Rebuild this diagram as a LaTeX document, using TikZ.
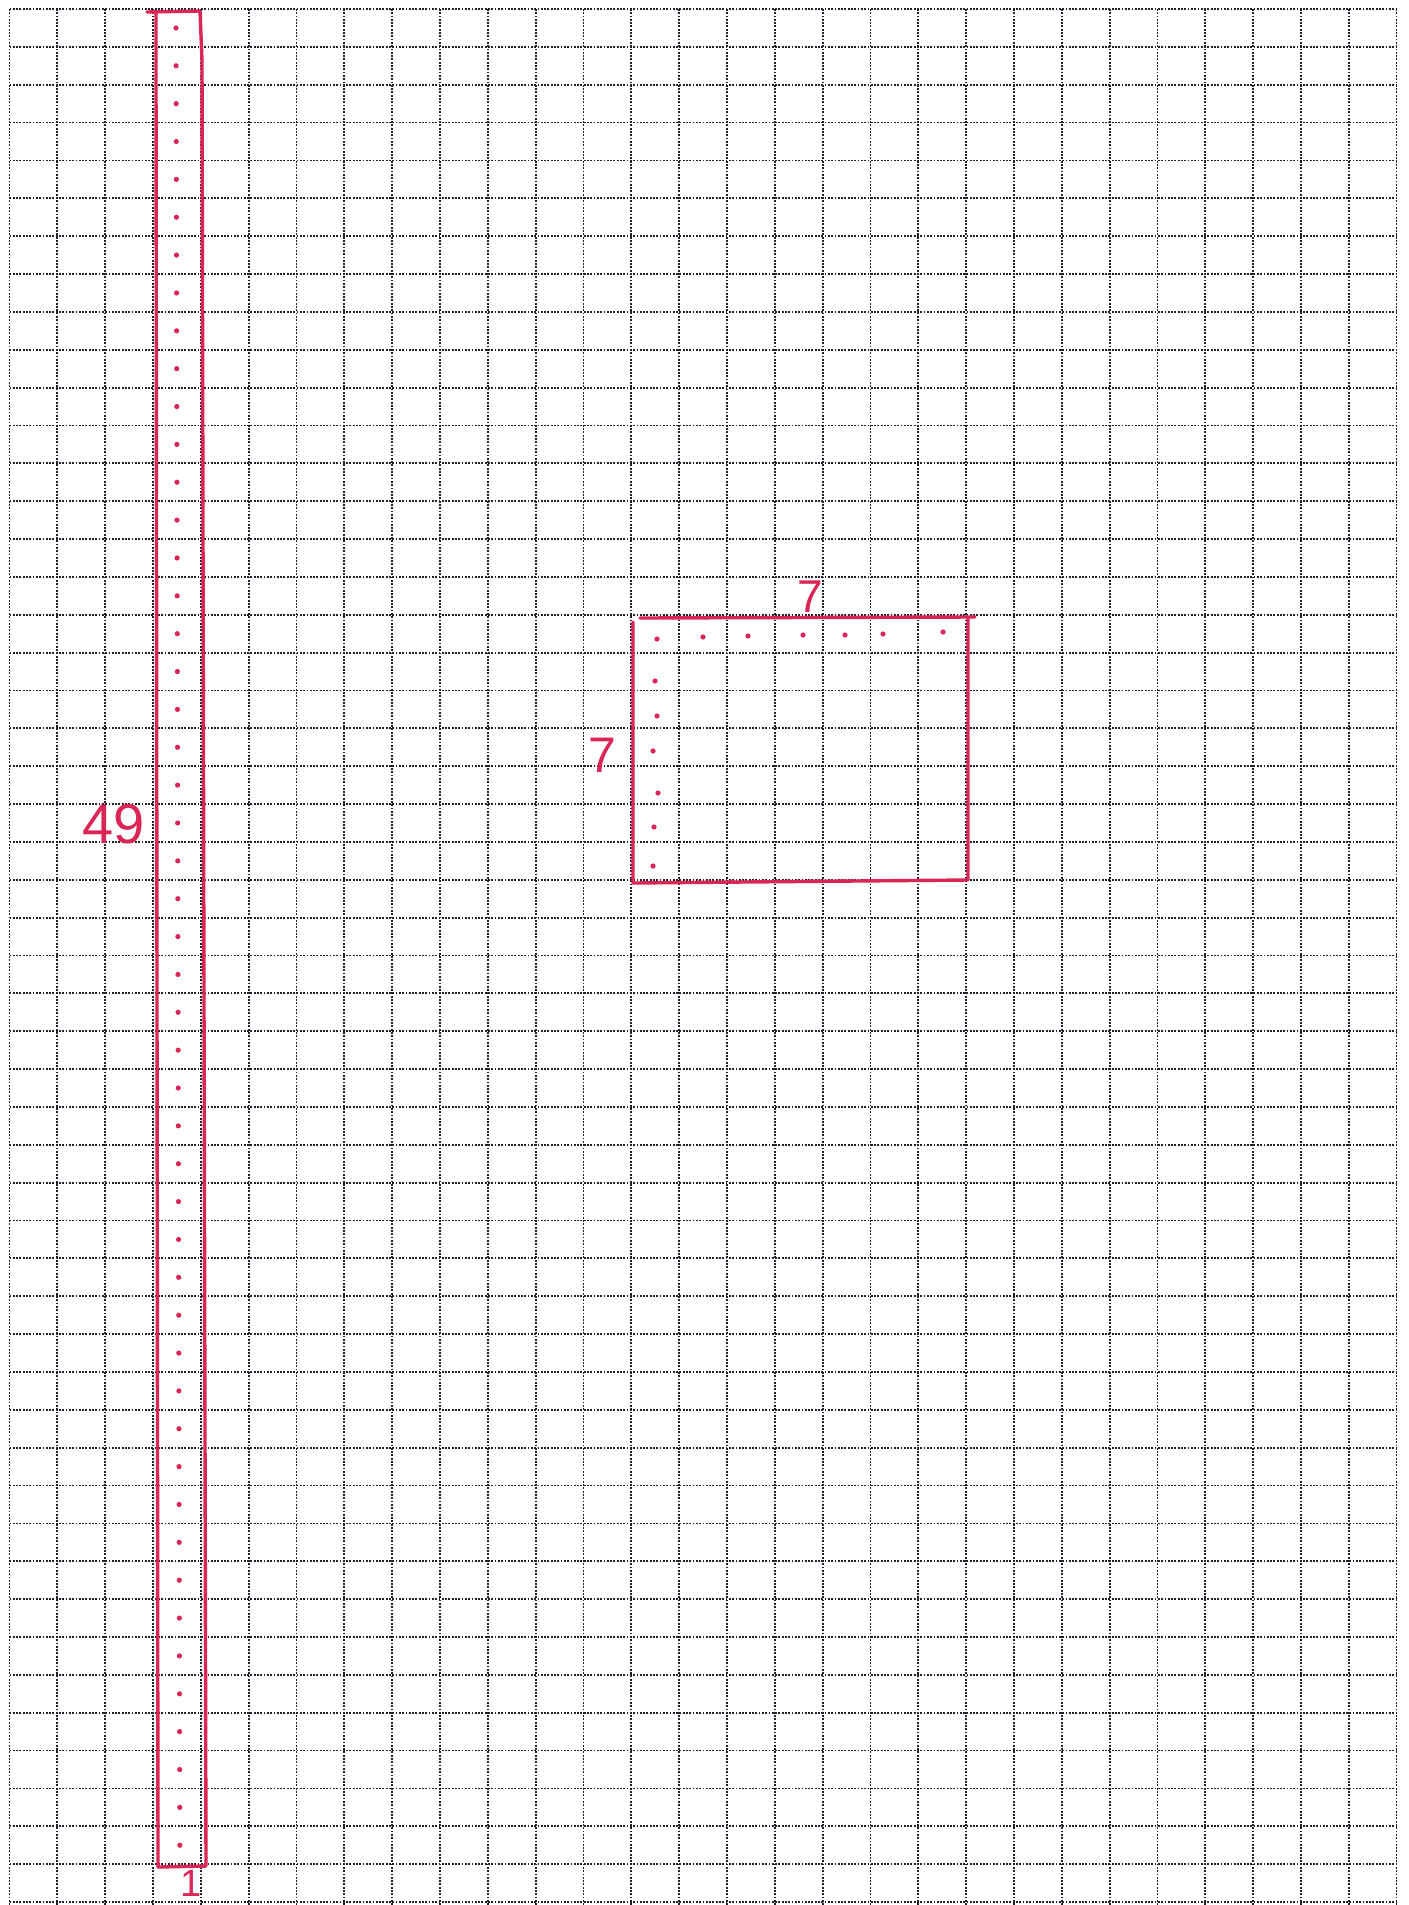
\documentclass[tikz,border=0pt]{standalone}
\usepackage{fontspec}
\setmainfont{Liberation Sans}
\definecolor{pen}{RGB}{218,38,84}
\definecolor{gridink}{RGB}{30,34,42}
\begin{document}
\begin{tikzpicture}[x=1pt,y=-1pt,
  gridline/.style={gridink,line width=1.8pt,dash pattern=on 1.8pt off 1.5pt},
  penline/.style={pen,line width=3.4pt,line cap=round,line join=round},
  pendot/.style={fill=pen,draw=none},
  penlabel/.style={pen,inner sep=0pt,font=\fontsize{#1}{#1}\selectfont}]
\useasboundingbox (0,0) rectangle (1408,1905);
\fill[white] (0,0) rectangle (1408,1905);
% grid: 29 columns x 50 rows
\foreach \k in {0,...,29} {
  \draw[gridline] ({9.5+\k*47.83},9) -- ({9.5+\k*47.83},1905);
}
\foreach \j in {0,...,50} {
  \draw[gridline] (9.5,{9+\j*37.86}) -- (1396,{9+\j*37.86});
}
% the 1 x 49 strip
\draw[penline] (147,12) -- (200,11) -- (202,60) -- (204,1000) -- (206,1866) -- (158,1867) -- (157,1000) -- (156,60) -- (156,13);
\foreach \j in {0,...,48} {
  \fill[pendot] ({176+0.08*\j},{9+(\j+0.5)*37.86}) circle (2.6);
}
\node[penlabel=56] (lab49) at (114,824) {49};
\node[penlabel=38,anchor=south] (lab1) at (191,1897) {1};
% the 7 x 7 square
\draw[penline] (633,622) -- (633,883) -- (968,880) -- (968,617) -- (640,618) -- (975,617);
\foreach \x/\y in {657/639,703/637,748/636,803/635,845/635,883/634,943/632,
                   655/681,657/716,653/751,658/793,654/827,653/866} {
  \fill[pendot] (\x,\y) circle (2.6);
}
\node[penlabel=46] (labtop) at (810,597) {7};
\node[penlabel=50] (lableft) at (602,755) {7};
\end{tikzpicture}
\end{document}
